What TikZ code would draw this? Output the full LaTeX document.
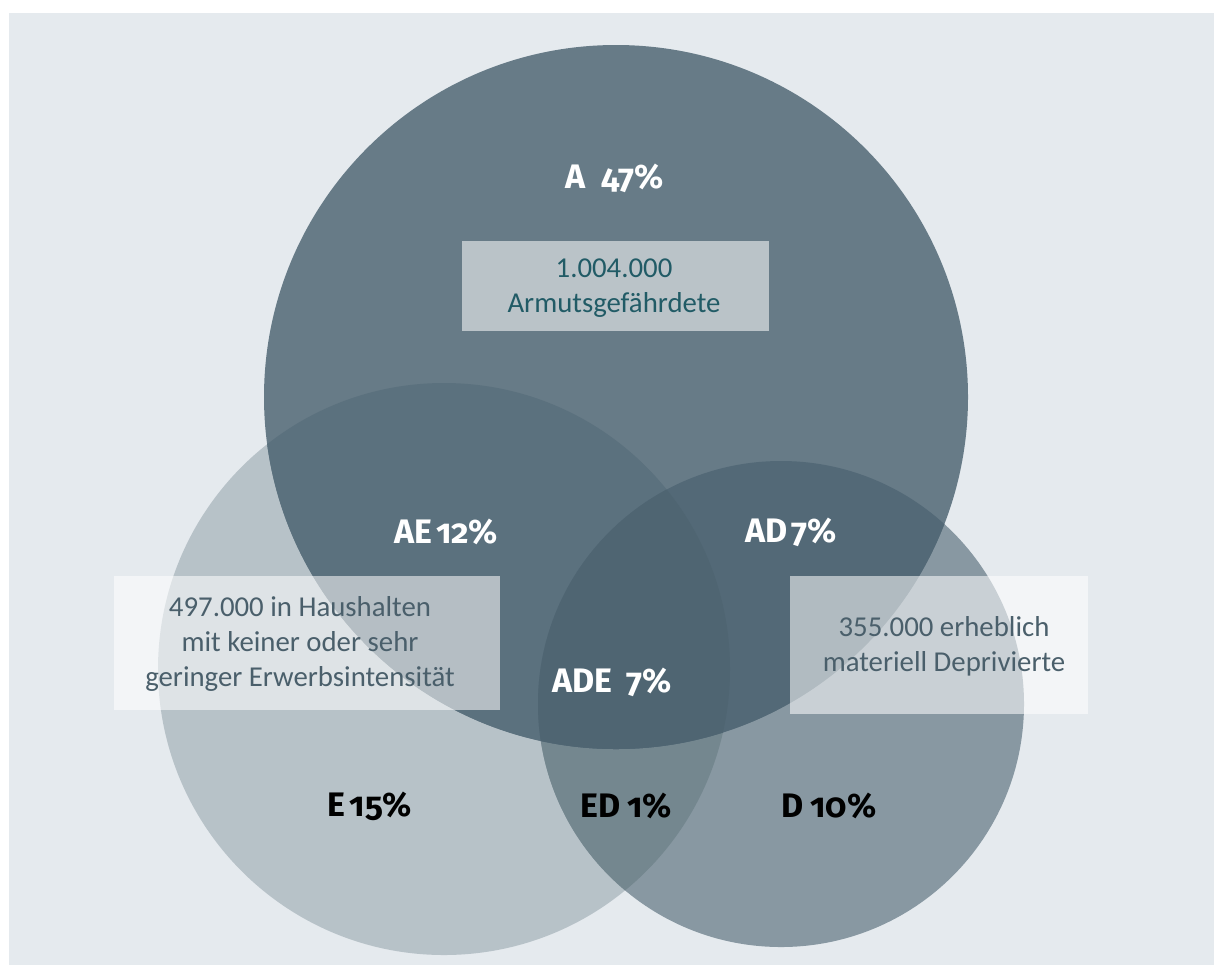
\documentclass[tikz,border=0pt]{standalone}
\usepackage{fontspec}
\setmainfont{Carlito}
\newfontfamily\labfont[Numbers=OldStyle]{Fira Sans}
\definecolor{bgc}{HTML}{E5EAEE}
\definecolor{cA}{HTML}{677B87}
\definecolor{cE}{HTML}{B7C2C8}
\definecolor{cD}{HTML}{8898A2}
\definecolor{cAE}{HTML}{5B717E}
\definecolor{cAD}{HTML}{536977}
\definecolor{cADE}{HTML}{4F6572}
\definecolor{cED}{HTML}{74878F}
\definecolor{tealtxt}{HTML}{215B66}
\definecolor{slatetxt}{HTML}{4A5F6B}
\begin{document}
\begin{tikzpicture}[x=0.5pt,y=-0.5pt,
  infobox/.style={fill=white,fill opacity=0.55,text opacity=1,draw=none,inner sep=0pt},
  bodytxt/.style={font=\fontsize{14.4}{17.5}\selectfont,align=center},
  lab/.style={font=\labfont\bfseries\fontsize{17}{20}\selectfont,inner sep=0pt}]
\useasboundingbox (0,0) rectangle (1214,965);
\fill[white] (0,0) rectangle (1214,965);
\fill[bgc] (9,13) rectangle (1214,965);
% circles
\def\circA{(616,397) circle (352)}
\def\circE{(444,669) circle (286)}
\def\circD{(781,704) circle (243)}
\fill[cE] \circE;
\fill[cD] \circD;
\begin{scope}\clip \circE; \fill[cED] \circD; \end{scope}
\fill[cA] \circA;
\begin{scope}\clip \circA; \fill[cAE] \circE; \fill[cAD] \circD;
  \clip \circE; \fill[cADE] \circD; \end{scope}
% boxes
\fill[infobox] (462,241) rectangle (769,331);
\fill[infobox] (114,576) rectangle (500,710);
\fill[infobox] (790,576) rectangle (1088,714);
\node[bodytxt,text=tealtxt] (tA) at (614,288) {1.004.000\\Armutsgefährdete};
\node[bodytxt,text=slatetxt] (tE) at (300,644) {497.000 in Haushalten\\mit keiner oder sehr\\geringer Erwerbsintensität};
\node[bodytxt,text=slatetxt] (tD) at (944,646) {355.000 erheblich\\materiell Deprivierte};
% labels
\node[lab,text=white] (lA) at (615,178) {A\hspace{0.45em}47\%};
\node[lab,text=white] (lAE) at (446,532) {AE\hspace{0.12em}12\%};
\node[lab,text=white] (lAD) at (791,532) {AD\hspace{0.12em}7\%};
\node[lab,text=white] (lADE) at (612,682) {ADE\hspace{0.4em}7\%};
\node[lab,text=black] (lE) at (370,806) {E\hspace{0.12em}15\%};
\node[lab,text=black] (lED) at (626,806) {ED\hspace{0.2em}1\%};
\node[lab,text=black] (lD) at (829,806) {D\hspace{0.2em}10\%};
\end{tikzpicture}
\end{document}
